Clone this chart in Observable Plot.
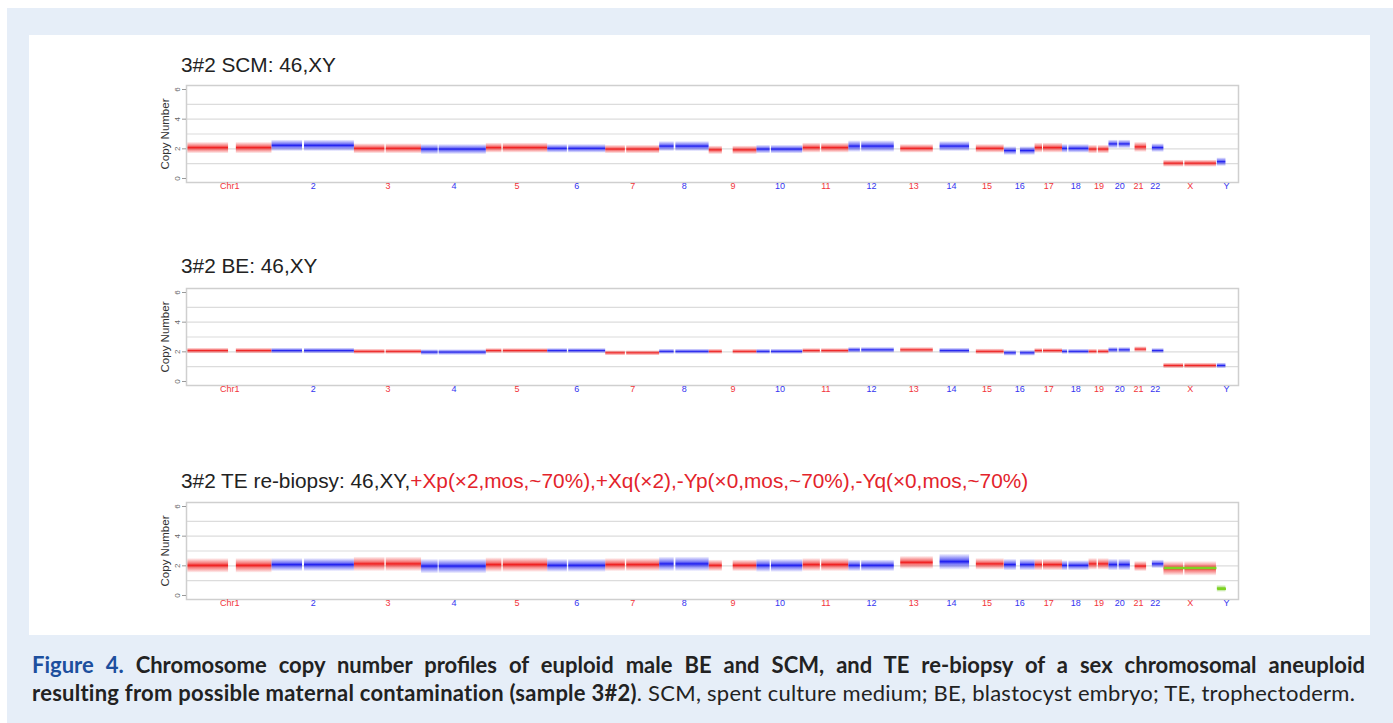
<!DOCTYPE html>
<html><head><meta charset="utf-8">
<script src="https://cdn.jsdelivr.net/npm/d3@7"></script>
<script src="https://cdn.jsdelivr.net/npm/@observablehq/plot@0.6"></script>
<style>
body{margin:0;width:1393px;height:723px;position:relative;background:#fff;overflow:hidden;font-family:"Liberation Sans",Arial,Helvetica,sans-serif;}
#bg{position:absolute;left:7px;top:8px;width:1386px;height:715px;background:#e6eef8;}
#panel{position:absolute;left:29px;top:35px;width:1341px;height:600px;background:#fff;}
.title{position:absolute;left:181px;font-size:20.8px;color:#222;white-space:nowrap;line-height:24px;}
.title .red{color:#e3232b;}
.plot{position:absolute;left:0;}
#caption{position:absolute;left:32px;top:651px;width:1333px;font-family:Lato,"Open Sans",sans-serif;font-size:22px;color:#222;line-height:28px;}
#caption .l1{text-align:justify;text-align-last:justify;font-weight:bold;white-space:nowrap;}
#caption .l2{white-space:nowrap;letter-spacing:0.25px;}
#caption .fig{color:#1d4f9e;}
</style></head>
<body>
<svg width="0" height="0" style="position:absolute">
<defs>
<linearGradient id="gRed" x1="0" y1="0" x2="0" y2="1">
<stop offset="0" stop-color="#f01e1e" stop-opacity="0"/><stop offset="0.15" stop-color="#f01e1e" stop-opacity="0.25"/><stop offset="0.36" stop-color="#f01e1e" stop-opacity="0.6"/><stop offset="0.5" stop-color="#f01e1e" stop-opacity="1"/><stop offset="0.64" stop-color="#f01e1e" stop-opacity="0.6"/><stop offset="0.85" stop-color="#f01e1e" stop-opacity="0.25"/><stop offset="1" stop-color="#f01e1e" stop-opacity="0"/>
</linearGradient>
<linearGradient id="gBlue" x1="0" y1="0" x2="0" y2="1">
<stop offset="0" stop-color="#1e1ef0" stop-opacity="0"/><stop offset="0.15" stop-color="#1e1ef0" stop-opacity="0.25"/><stop offset="0.36" stop-color="#1e1ef0" stop-opacity="0.6"/><stop offset="0.5" stop-color="#1e1ef0" stop-opacity="1"/><stop offset="0.64" stop-color="#1e1ef0" stop-opacity="0.6"/><stop offset="0.85" stop-color="#1e1ef0" stop-opacity="0.25"/><stop offset="1" stop-color="#1e1ef0" stop-opacity="0"/>
</linearGradient>
<linearGradient id="gGreen" x1="0" y1="0" x2="0" y2="1">
<stop offset="0" stop-color="#6cc61a" stop-opacity="0"/><stop offset="0.3" stop-color="#6cc61a" stop-opacity="0.45"/><stop offset="0.5" stop-color="#6cc61a" stop-opacity="1"/><stop offset="0.7" stop-color="#6cc61a" stop-opacity="0.45"/><stop offset="1" stop-color="#6cc61a" stop-opacity="0"/>
</linearGradient>
</defs></svg>
<div id="bg"></div>
<div id="panel"></div>
<div class="title" style="top:53px">3#2 SCM: 46,XY</div>
<div class="title" style="top:254px">3#2 BE: 46,XY</div>
<div class="title" style="top:469px">3#2 TE re-biopsy: 46,XY,<span class="red">+Xp(×2,mos,~70%),+Xq(×2),-Yp(×0,mos,~70%),-Yq(×0,mos,~70%)</span></div>
<div id="p1" class="plot" style="top:80px"></div>
<div id="p2" class="plot" style="top:283px"></div>
<div id="p3" class="plot" style="top:497px"></div>
<div id="caption">
<div class="l1"><span class="fig">Figure 4.</span> Chromosome copy number profiles of euploid male BE and SCM, and TE re-biopsy of a sex chromosomal aneuploid</div>
<div class="l2"><b>resulting from possible maternal contamination (sample 3#2)</b>. SCM, spent culture medium; BE, blastocyst embryo; TE, trophectoderm.</div>
</div>
<script>
// ---- data ----
const chromNames = ["Chr1","2","3","4","5","6","7","8","9","10","11","12","13","14","15","16","17","18","19","20","21","22","X","Y"];
const chromLengths = [249,243,198,191,181,171,159,146,141,136,135,134,115,107,103,90,81,78,59,63,48,51,155,59];
// covered regions per chromosome (Mb), gaps = centromere / heterochromatin
const coveredRegions = [
 [[0.8,121],[144,249]],[[0.2,90],[96,243]],[[0.1,90],[94,198]],[[0.1,49],[52,191]],
 [[0.1,46],[50,181]],[[0.2,58],[62,171]],[[0.2,58],[62,159]],[[0.2,43],[48,146]],
 [[0.2,39],[71,141]],[[0.1,39],[43,135]],[[0.2,51],[55,135]],[[0.2,34],[38,134]],
 [[19,115]],[[20,107]],[[20,102]],[[0.1,35],[47,90]],
 [[0.1,22],[25,81]],[[0.1,15],[19,78]],[[0.3,24],[28,59]],[[0.1,26],[30,63]],
 [[14,48]],[[17,51]],[[0.2,58],[62,155]],[[2.6,28]]
];
const scmLevel  = [2.05,2.2,2.0,1.95,2.05,2.0,1.95,2.15,1.9,1.95,2.05,2.15,2.0,2.15,2.0,1.85,2.05,2.0,1.95,2.3,2.1,2.05,1.0,1.1];
const scmSpread = [0.4,0.4,0.35,0.35,0.35,0.3,0.3,0.35,0.3,0.3,0.35,0.4,0.3,0.35,0.3,0.3,0.35,0.3,0.3,0.3,0.35,0.3,0.25,0.3];
const beLevel   = [2.05,2.05,2.0,1.95,2.05,2.05,1.9,2.0,2.0,2.0,2.05,2.1,2.1,2.05,2.0,1.9,2.05,2.0,2.0,2.1,2.15,2.05,1.05,1.05];
const beSpread  = [0.2,0.2,0.18,0.2,0.18,0.18,0.18,0.18,0.18,0.18,0.18,0.2,0.2,0.2,0.2,0.2,0.18,0.18,0.18,0.2,0.2,0.18,0.2,0.2];
const teLevel   = [2.0,2.05,2.1,1.95,2.05,2.0,2.05,2.1,2.0,2.0,2.05,2.0,2.2,2.25,2.1,2.05,2.05,2.0,2.1,2.05,1.95,2.1,1.8,0.45];
const teSpread  = [0.5,0.45,0.5,0.5,0.5,0.45,0.45,0.5,0.4,0.45,0.45,0.4,0.45,0.55,0.4,0.4,0.4,0.35,0.4,0.4,0.35,0.3,0.5,0.25];
const teSegmentX = 1.85;   // green segment call on X in TE
const teSegmentY = 0.45;   // green segment call on Y in TE
const yTicks = [0,2,4,6];
const yGrid = [1,2,3,4,5];

// ---- derived ----
const offsets = []; let acc = 0;
for (const L of chromLengths) { offsets.push(acc); acc += L; }
const chroms = chromNames.map((n,i)=>({name:n, center: offsets[i] + chromLengths[i]/2, color: i%2===0 ? "#f2343a" : "#3434f0", odd: i%2===0}));

function bands(level, spread, skip){
  const out = [];
  chromNames.forEach((n,i)=>{
    if (skip && skip.includes(n)) return;
    for (const [s,e] of coveredRegions[i]) {
      out.push({x1: offsets[i]+s, x2: offsets[i]+e, y1: level[i]-spread[i], y2: level[i]+spread[i], odd: i%2===0});
    }
  });
  return out;
}

function makePlot(level, spread, extra, skip){
  const data = bands(level, spread, skip);
  return Plot.plot({
    width: 1393, height: 117,
    marginLeft: 186, marginRight: 155, marginTop: 5, marginBottom: 15,
    x: {domain: [-3, 3099], axis: null},
    y: {domain: [-0.27, 6.27], axis: null},
    style: {background: "transparent", overflow: "visible", fontFamily: "Liberation Sans, Arial, sans-serif"},
    marks: [
      Plot.ruleY(yGrid, {stroke: "#dcdcdc", strokeWidth: 1.2}),
      Plot.rect(data.filter(d=>d.odd), {x1:"x1", x2:"x2", y1:"y1", y2:"y2", fill: "url(#gRed)"}),
      Plot.rect(data.filter(d=>!d.odd), {x1:"x1", x2:"x2", y1:"y1", y2:"y2", fill: "url(#gBlue)"}),
      ...extra,
      Plot.frame({stroke: "#cfcfcf", strokeWidth: 1.5}),
      Plot.axisY({ticks: yTicks, tickSize: 4, tickFormat: () => "", stroke: "#999", label: null}),
      Plot.text(yTicks, {y: d=>d, text: d=>String(d), frameAnchor: "left", textAnchor: "middle", dx: -9, rotate: -90, fontSize: 8, fill: "#666"}),
      Plot.text(["Copy Number"], {frameAnchor: "left", textAnchor: "middle", text: d=>d, dx: -21, rotate: -90, fontSize: 11.5, fill: "#333"}),
      Plot.text(chroms, {x: "center", text: "name", fill: "color", frameAnchor: "bottom", dy: 6, fontSize: 9})
    ]
  });
}

document.getElementById("p1").append(makePlot(scmLevel, scmSpread, []));
document.getElementById("p2").append(makePlot(beLevel, beSpread, []));

const xi = chromNames.indexOf("X"), yi = chromNames.indexOf("Y");
const teExtra = [
  Plot.rect([{x1: offsets[yi]+coveredRegions[yi][0][0], x2: offsets[yi]+coveredRegions[yi][0][1], y1: teLevel[yi]-teSpread[yi], y2: teLevel[yi]+teSpread[yi]}], {x1:"x1", x2:"x2", y1:"y1", y2:"y2", fill: "url(#gGreen)"}),
  Plot.link([{x1: offsets[xi]+coveredRegions[xi][0][0], x2: offsets[xi]+coveredRegions[xi][1][1], y: teSegmentX}], {x1:"x1", x2:"x2", y1:"y", y2:"y", stroke: "#7ed321", strokeWidth: 2.5}),
  Plot.link([{x1: offsets[yi]+coveredRegions[yi][0][0], x2: offsets[yi]+coveredRegions[yi][0][1], y: teSegmentY}], {x1:"x1", x2:"x2", y1:"y", y2:"y", stroke: "#7ed321", strokeWidth: 2.5})
];
document.getElementById("p3").append(makePlot(teLevel, teSpread, teExtra, ["Y"]));
</script>
</body></html>
